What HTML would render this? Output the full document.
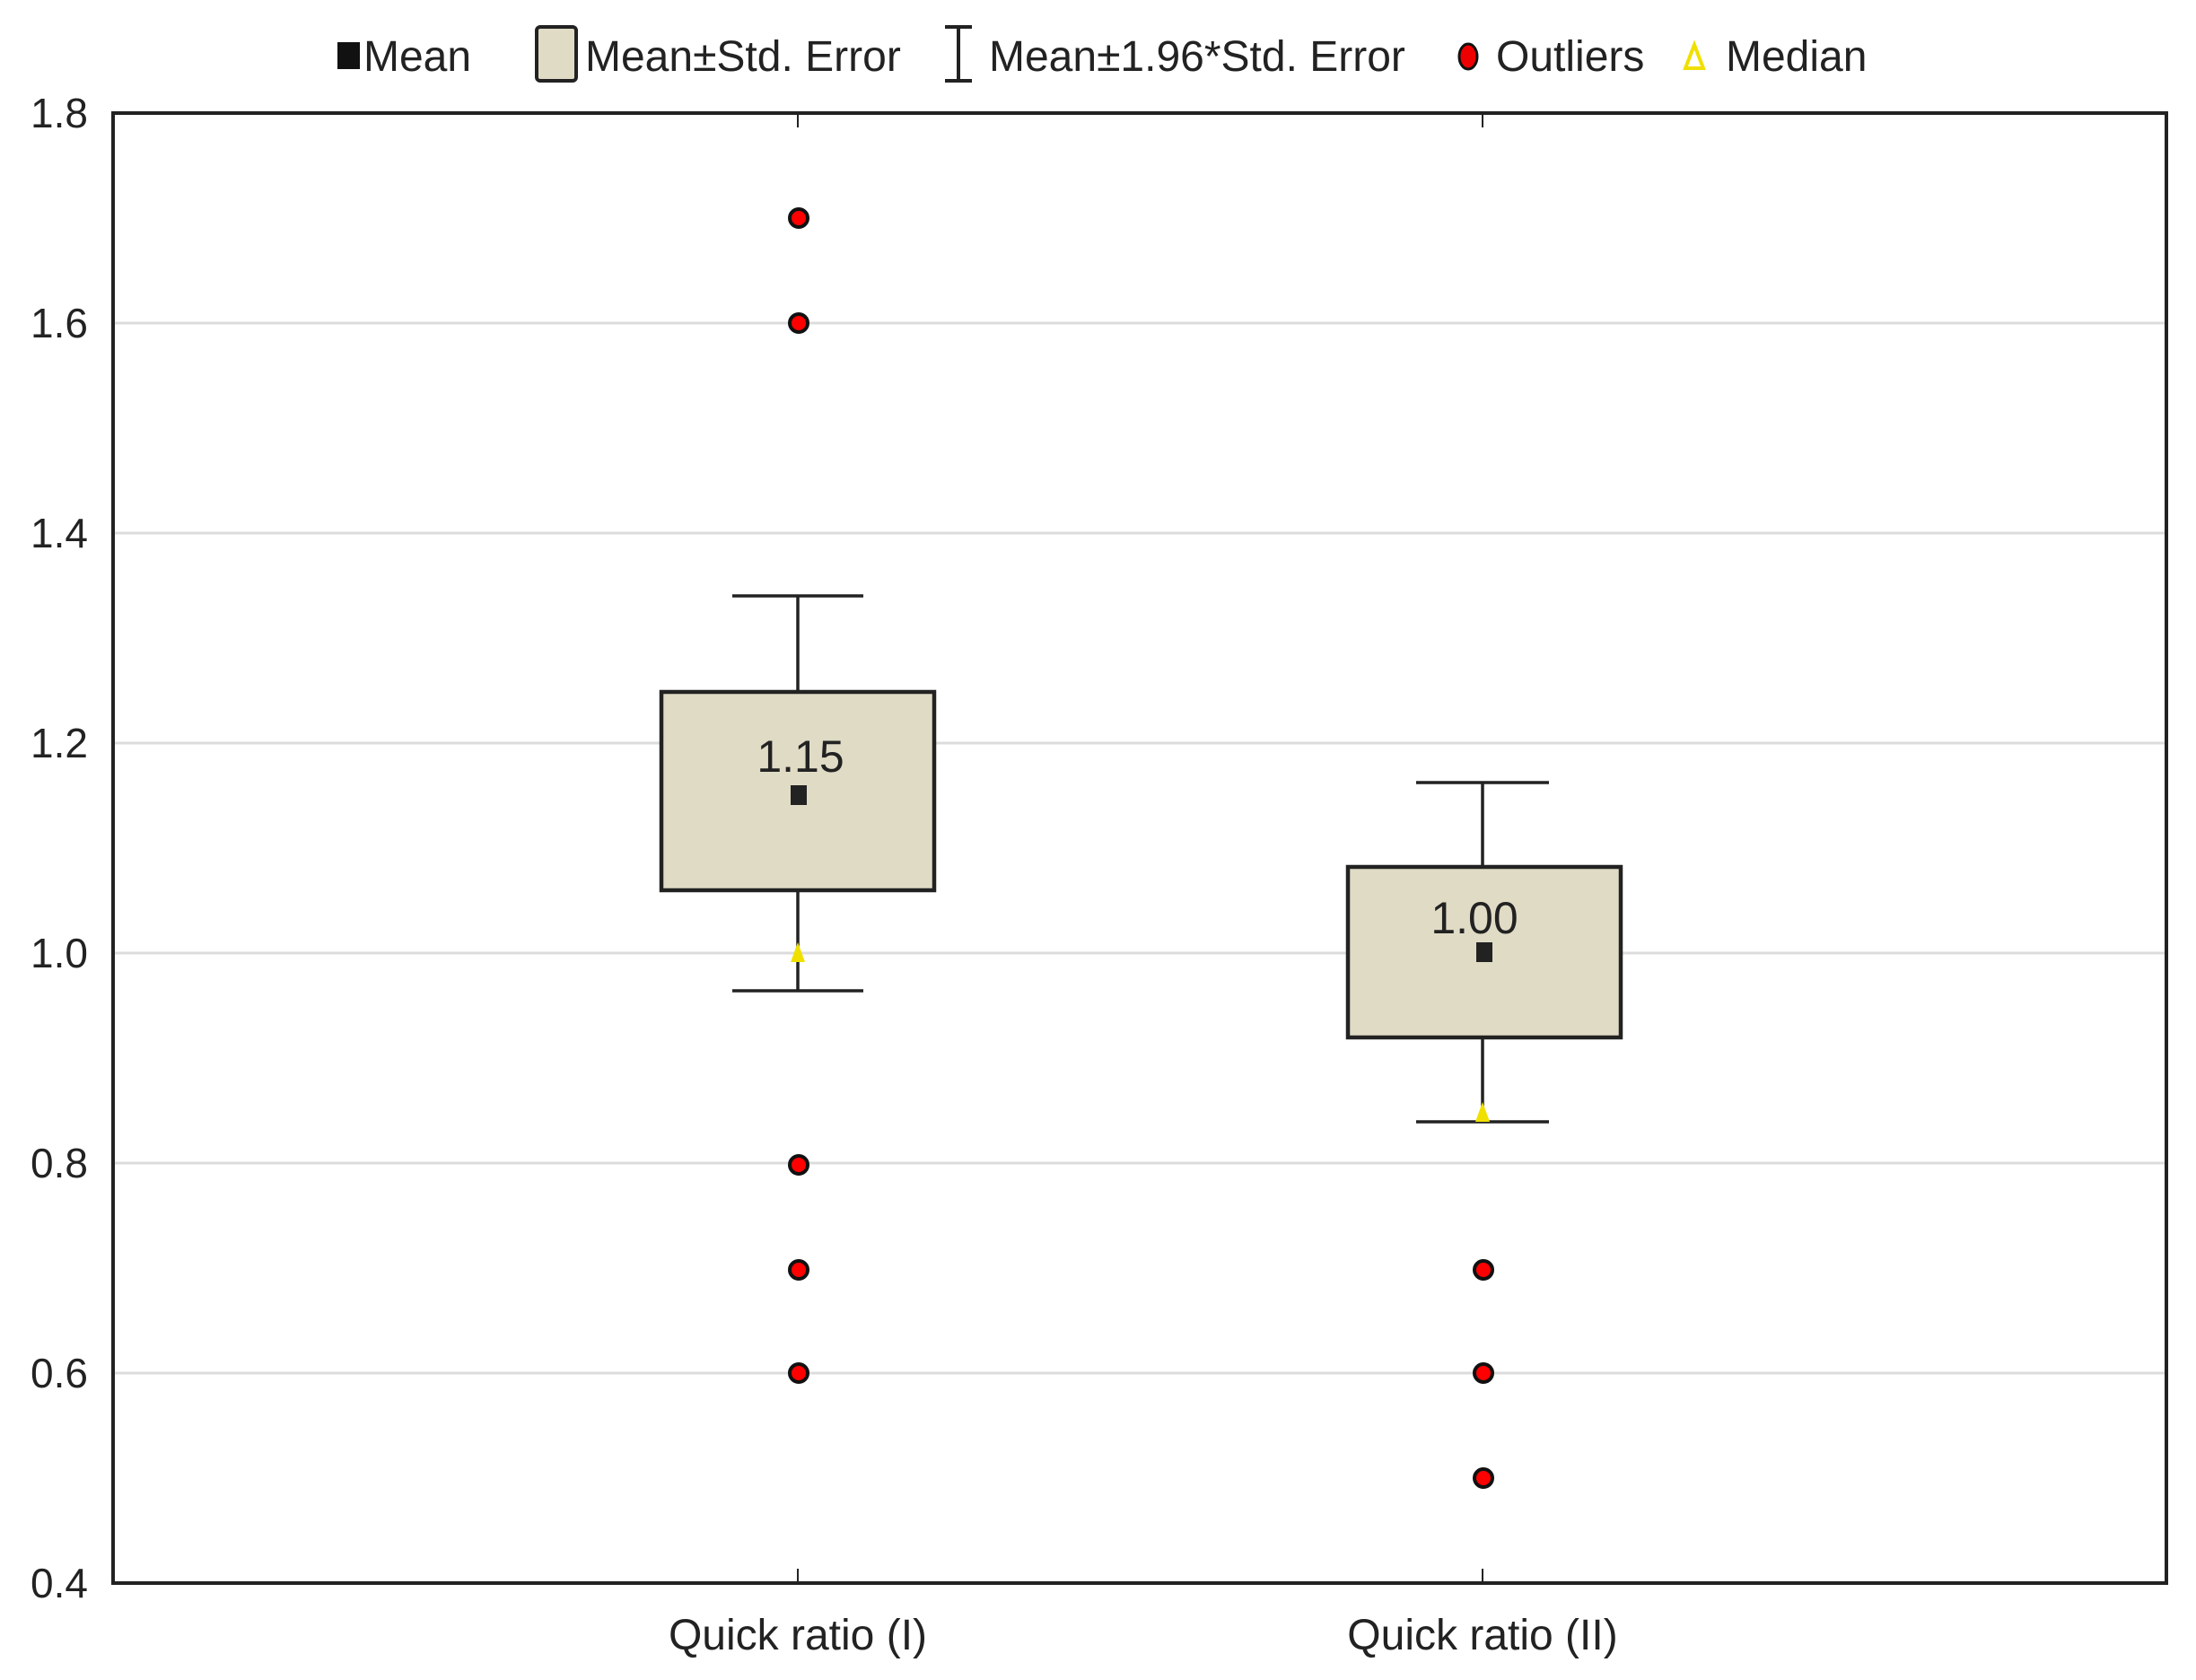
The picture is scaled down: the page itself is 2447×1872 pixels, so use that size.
<!DOCTYPE html>
<html><head><meta charset="utf-8"><style>
html,body{margin:0;padding:0;background:#fff;}
svg{display:block;}
text{font-family:"Liberation Sans",Arial,sans-serif;fill:#222;}
</style></head><body>
<svg width="2447" height="1872" viewBox="0 0 2447 1872" xmlns="http://www.w3.org/2000/svg">
<rect width="2447" height="1872" fill="#fff"/>
<!-- legend -->
<rect x="376" y="47" width="25" height="30" fill="#111"/>
<text x="405" y="79" font-size="48">Mean</text>
<rect x="598" y="30" width="44" height="60" rx="4" fill="#e0dbc5" stroke="#222" stroke-width="4"/>
<text x="652" y="79" font-size="48">Mean±Std. Error</text>
<line x1="1068" y1="30" x2="1068" y2="90" stroke="#222" stroke-width="4"/>
<line x1="1053" y1="30" x2="1083" y2="30" stroke="#222" stroke-width="4"/>
<line x1="1053" y1="90" x2="1083" y2="90" stroke="#222" stroke-width="4"/>
<text x="1102" y="79" font-size="48">Mean±1.96*Std. Error</text>
<ellipse cx="1636" cy="63" rx="10" ry="14" fill="#e00" stroke="#111" stroke-width="3"/>
<text x="1667" y="79" font-size="48">Outliers</text>
<polygon points="1888,50 1878,76 1898,76" fill="none" stroke="#f0e000" stroke-width="4"/>
<text x="1923" y="79" font-size="48">Median</text>
<!-- grid -->
<g stroke="#dcdcdc" stroke-width="3">
<line x1="125" y1="360" x2="2414" y2="360"/>
<line x1="125" y1="594" x2="2414" y2="594"/>
<line x1="125" y1="828" x2="2414" y2="828"/>
<line x1="125" y1="1062" x2="2414" y2="1062"/>
<line x1="125" y1="1296" x2="2414" y2="1296"/>
<line x1="125" y1="1530" x2="2414" y2="1530"/>
</g>
<!-- frame -->
<rect x="126" y="126" width="2288" height="1638" fill="none" stroke="#222" stroke-width="4"/>
<g stroke="#222" stroke-width="2">
<line x1="889" y1="126" x2="889" y2="142"/><line x1="1652" y1="126" x2="1652" y2="142"/>
<line x1="889" y1="1748" x2="889" y2="1764"/><line x1="1652" y1="1748" x2="1652" y2="1764"/>
</g>
<!-- y labels -->
<g font-size="46" text-anchor="end">
<text x="98" y="142">1.8</text>
<text x="98" y="376">1.6</text>
<text x="98" y="610">1.4</text>
<text x="98" y="844">1.2</text>
<text x="98" y="1078">1.0</text>
<text x="98" y="1312">0.8</text>
<text x="98" y="1546">0.6</text>
<text x="98" y="1780">0.4</text>
</g>
<g font-size="48" text-anchor="middle">
<text x="889" y="1838">Quick ratio (I)</text>
<text x="1652" y="1838">Quick ratio (II)</text>
</g>
<!-- box I -->
<g stroke="#222" stroke-width="3.5">
<line x1="889" y1="664" x2="889" y2="771"/>
<line x1="816" y1="664" x2="962" y2="664"/>
<line x1="889" y1="992" x2="889" y2="1104"/>
<line x1="816" y1="1104" x2="962" y2="1104"/>
<rect x="737" y="771" width="304" height="221" fill="#e0dbc5" stroke-width="4.5"/>
</g>
<polygon points="889,1050 881,1072 897,1072" fill="#f0e000"/>
<text x="892" y="860" font-size="50" text-anchor="middle">1.15</text>
<rect x="881" y="875" width="18" height="22" fill="#222"/>
<!-- box II -->
<g stroke="#222" stroke-width="3.5">
<line x1="1652" y1="872" x2="1652" y2="966"/>
<line x1="1578" y1="872" x2="1726" y2="872"/>
<line x1="1652" y1="1156" x2="1652" y2="1250"/>
<line x1="1578" y1="1250" x2="1726" y2="1250"/>
<rect x="1502" y="966" width="304" height="190" fill="#e0dbc5" stroke-width="4.5"/>
</g>
<polygon points="1652,1228 1644,1250 1660,1250" fill="#f0e000"/>
<text x="1643" y="1040" font-size="50" text-anchor="middle">1.00</text>
<rect x="1645" y="1050" width="18" height="22" fill="#222"/>
<!-- outliers -->
<g fill="#f00" stroke="#111" stroke-width="4">
<circle cx="890" cy="243" r="10"/>
<circle cx="890" cy="360" r="10"/>
<circle cx="890" cy="1298" r="10"/>
<circle cx="890" cy="1415" r="10"/>
<circle cx="890" cy="1530" r="10"/>
<circle cx="1653" cy="1415" r="10"/>
<circle cx="1653" cy="1530" r="10"/>
<circle cx="1653" cy="1647" r="10"/>
</g>
</svg>
</body></html>
